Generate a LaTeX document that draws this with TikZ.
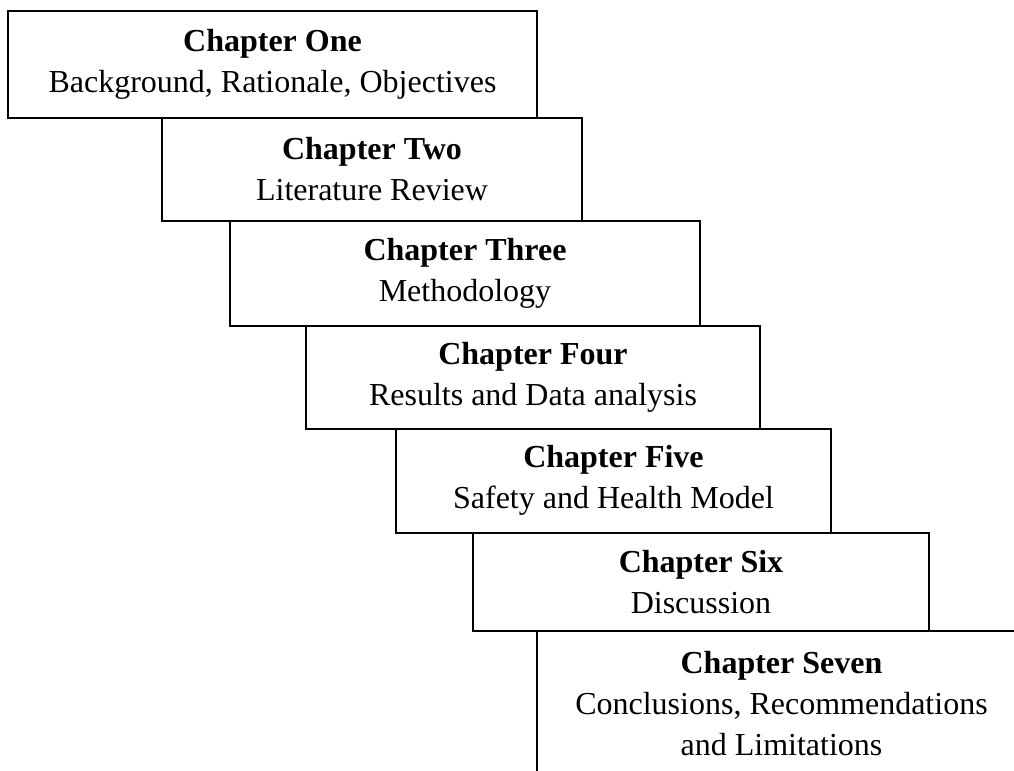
\documentclass[tikz,border=0pt]{standalone}
\usepackage{fontspec}
\setmainfont{Liberation Serif}
\begin{document}
\begin{tikzpicture}[x=0.5pt,y=-0.5pt,
  chapbox/.style={draw=black, line width=1pt, fill=white, rectangle, inner sep=0pt,
    align=center, font=\fontsize{16}{20.5}\selectfont}]
\useasboundingbox (0,0) rectangle (1014,771);
\clip (0,0) rectangle (1014,771);
\node[chapbox, minimum width=264.5pt, minimum height=53.5pt] (c1) at (272.5,64.5)
  {\textbf{Chapter One}\\Background, Rationale, Objectives};
\node[chapbox, minimum width=210pt, minimum height=51.5pt] (c2) at (372,169.5)
  {\textbf{Chapter Two}\\Literature Review};
\node[chapbox, minimum width=235pt, minimum height=52.25pt] (c3) at (465,273.25)
  {\textbf{Chapter Three}\\Methodology};
\node[chapbox, minimum width=227pt, minimum height=51.75pt] (c4) at (533,377.25)
  {\textbf{Chapter Four}\\Results and Data analysis};
\node[chapbox, minimum width=217.5pt, minimum height=51.75pt] (c5) at (613.5,480.75)
  {\textbf{Chapter Five}\\Safety and Health Model};
\node[chapbox, minimum width=228pt, minimum height=49.25pt] (c6) at (701,581.75)
  {\textbf{Chapter Six}\\Discussion};
\node[chapbox, minimum width=244.5pt, minimum height=73pt] (c7) at (781.5,704)
  {\textbf{Chapter Seven}\\Conclusions, Recommendations\\and Limitations};
\end{tikzpicture}
\end{document}
